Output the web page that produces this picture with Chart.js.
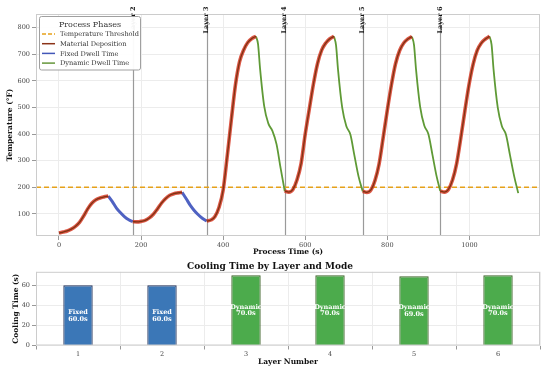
<!DOCTYPE html>
<html>
<head>
<meta charset="utf-8">
<script src="https://cdn.jsdelivr.net/npm/chart.js@4/dist/chart.umd.min.js"></script>
<style>
  html, body { margin: 0; padding: 0; background: #fff; }
  canvas { display: block; }
</style>
</head>
<body>
<canvas id="tempChart" width="550" height="258"></canvas>
<canvas id="coolChart" width="550" height="113"></canvas>
<script>
// process temperature trace
const timeS = [
  0, 10, 20, 30, 40, 50, 60, 70, 80, 90, 100, 110, 120,
  130, 140, 150, 160, 170, 180,
  190, 200, 210, 220, 230, 240, 250, 260, 270, 280, 290, 300,
  310, 320, 330, 340, 350, 360,
  370, 380, 390, 400, 410, 420, 430, 440, 450, 460, 470, 480,
  485, 490, 500, 510, 520, 530, 540, 550,
  560, 570, 580, 590, 600, 610, 620, 630, 640, 650, 660, 670,
  675, 680, 690, 700, 710, 720, 730, 740,
  750, 760, 770, 780, 790, 800, 810, 820, 830, 840, 850, 860,
  865, 870, 880, 890, 900, 910, 920, 929,
  939, 949, 959, 969, 979, 989, 999, 1009, 1019, 1029, 1039, 1049,
  1054, 1059, 1069, 1079, 1089, 1099, 1109, 1119
];
const tempF = [
  28, 32, 36, 43, 53, 68, 92, 119, 140, 153, 160, 164, 167,
  146, 122, 104, 89, 78, 71,
  70, 72, 76, 85, 99, 119, 141, 158, 170, 176, 179, 181,
  157, 132, 112, 96, 83, 73,
  77, 90, 125, 190, 318, 455, 585, 672, 716, 744, 759, 767,
  738, 645, 505, 440, 412, 362, 272, 186,
  182, 192, 228, 290, 400, 495, 588, 665, 715, 742, 758, 767,
  734, 640, 500, 430, 398, 318, 240, 185,
  181, 190, 226, 288, 388, 490, 585, 664, 714, 742, 757, 766,
  735, 642, 502, 432, 400, 322, 242, 186,
  182, 192, 228, 290, 385, 488, 585, 662, 714, 742, 757, 767,
  736, 640, 500, 430, 398, 320, 242, 178
];
// phase of the segment that starts at each point: D deposition, F fixed dwell, Y dynamic dwell
const phase = [
  'D','D','D','D','D','D','D','D','D','D','D','D','F',
  'F','F','F','F','F','D',
  'D','D','D','D','D','D','D','D','D','D','D','F',
  'F','F','F','F','F','D',
  'D','D','D','D','D','D','D','D','D','D','D','Y',
  'Y','Y','Y','Y','Y','Y','Y','D',
  'D','D','D','D','D','D','D','D','D','D','D','Y',
  'Y','Y','Y','Y','Y','Y','Y','D',
  'D','D','D','D','D','D','D','D','D','D','D','Y',
  'Y','Y','Y','Y','Y','Y','Y','D',
  'D','D','D','D','D','D','D','D','D','D','D','Y',
  'Y','Y','Y','Y','Y','Y','Y','Y'
];
const layerStarts = [180, 360, 550, 740, 929];
const layerNames = ['Layer 2', 'Layer 3', 'Layer 4', 'Layer 5', 'Layer 6'];
const threshold = 200;
const xTicks = [0, 200, 400, 600, 800, 1000];
const yTicks = [100, 200, 300, 400, 500, 600, 700, 800];

// cooling time per layer
const layers = ['1', '2', '3', '4', '5', '6'];
const coolingTimes = [60, 60, 70, 70, 69, 70];
const modes = ['Fixed', 'Fixed', 'Dynamic', 'Dynamic', 'Dynamic', 'Dynamic'];
const coolTicks = [0, 20, 40, 60];

const FONT = "'DejaVu Serif', serif";

function phaseData(p) {
  return timeS.map((t, i) => {
    const inPhase = phase[i] === p || (i > 0 && phase[i - 1] === p);
    return { x: t, y: inPhase ? tempF[i] : null };
  });
}

const lineBase = { pointRadius: 0, fill: false, cubicInterpolationMode: 'monotone', spanGaps: false };

const bgLines = {
  id: 'bgLines',
  beforeDatasetsDraw(chart) {
    const { ctx, chartArea: a, scales: { x, y } } = chart;
    ctx.save();
    // layer start lines
    ctx.strokeStyle = '#9a9a9a';
    ctx.lineWidth = 1.2;
    layerStarts.forEach(t => {
      const px = Math.round(x.getPixelForValue(t)) + 0.5;
      ctx.beginPath(); ctx.moveTo(px, a.top); ctx.lineTo(px, a.bottom); ctx.stroke();
    });
    // threshold
    const py = y.getPixelForValue(threshold);
    ctx.strokeStyle = '#e6a11a';
    ctx.lineWidth = 1.5;
    ctx.setLineDash([5, 3]);
    ctx.beginPath(); ctx.moveTo(a.left, py); ctx.lineTo(a.right, py); ctx.stroke();
    ctx.restore();
  },
  afterDraw(chart) {
    const { ctx, chartArea: a, scales: { x } } = chart;
    ctx.save();
    ctx.strokeStyle = '#cccccc';
    ctx.lineWidth = 1;
    ctx.strokeRect(a.left + 0.5, a.top + 0.5, a.right - a.left - 1, a.bottom - a.top - 1);
    // layer labels
    ctx.fillStyle = '#111';
    ctx.font = 'bold 6.5px ' + FONT;
    ctx.textAlign = 'center';
    ctx.textBaseline = 'middle';
    layerStarts.forEach((t, i) => {
      ctx.save();
      ctx.translate(x.getPixelForValue(t), 20);
      ctx.rotate(-Math.PI / 2);
      ctx.fillText(layerNames[i], 0, 0);
      ctx.restore();
    });
    // legend
    const lx = 39.5, ly = 16.5, lw = 101, lh = 53.5;
    ctx.fillStyle = 'rgba(255,255,255,0.95)';
    ctx.strokeStyle = '#a0a0a0';
    ctx.beginPath();
    ctx.roundRect(lx, ly, lw, lh, 2);
    ctx.fill(); ctx.stroke();
    ctx.fillStyle = '#333';
    ctx.font = '8px ' + FONT;
    ctx.fillText('Process Phases', 90, 24.5);
    const items = [
      ['Temperature Threshold', '#e6a11a', [4, 2]],
      ['Material Deposition', '#8b3318', []],
      ['Fixed Dwell Time', '#4257b8', []],
      ['Dynamic Dwell Time', '#65973a', []]
    ];
    ctx.font = '6.6px ' + FONT;
    ctx.textAlign = 'left';
    items.forEach((it, i) => {
      const iy = 34 + i * 9.7;
      ctx.strokeStyle = it[1];
      ctx.lineWidth = 1.5;
      ctx.setLineDash(it[2]);
      ctx.beginPath(); ctx.moveTo(42, iy); ctx.lineTo(55, iy); ctx.stroke();
      ctx.setLineDash([]);
      ctx.fillText(it[0], 60, iy + 0.5);
    });
    ctx.restore();
  }
};

const tempCtx = document.getElementById('tempChart').getContext('2d');
new Chart(tempCtx, {
  type: 'line',
  data: {
    datasets: [
      Object.assign({ data: phaseData('D'), borderColor: '#7f3312', borderWidth: 1.3, order: 1 }, lineBase),
      Object.assign({ data: phaseData('D'), borderColor: 'rgba(214,58,38,0.85)', borderWidth: 3.6, order: 2 }, lineBase),
      Object.assign({ data: phaseData('F'), borderColor: '#4f62c2', borderWidth: 3, order: 3 }, lineBase),
      Object.assign({ data: phaseData('Y'), borderColor: '#5f9a36', borderWidth: 1.8, order: 4 }, lineBase)
    ]
  },
  options: {
    responsive: false,
    animation: false,
    layout: { padding: { top: 14, right: 10, left: 0, bottom: 0 } },
    plugins: { legend: { display: false }, tooltip: { enabled: false } },
    scales: {
      x: {
        type: 'linear', min: -56, max: 1172,
        afterBuildTicks: s => { s.ticks = xTicks.map(v => ({ value: v })); },
        afterFit: s => { s.height = 22; },
        grid: { color: '#ececec', tickColor: '#999', tickLength: 4 },
        border: { display: false },
        ticks: { font: { family: FONT, size: 6.5 }, color: '#444', padding: 1, maxRotation: 0, callback: v => String(v) },
        title: { display: true, text: 'Process Time (s)', font: { family: FONT, size: 7.5, weight: 'bold' }, color: '#111', padding: { top: 0, bottom: 1 } }
      },
      y: {
        min: 17, max: 851,
        afterBuildTicks: s => { s.ticks = yTicks.map(v => ({ value: v })); },
        afterFit: s => { s.width = 36; },
        grid: { color: '#ececec', tickColor: '#999', tickLength: 4 },
        border: { display: false },
        ticks: { font: { family: FONT, size: 6.5 }, color: '#444', padding: 2, callback: v => String(v) },
        title: { display: true, text: 'Temperature (°F)', font: { family: FONT, size: 7.5, weight: 'bold' }, color: '#111', padding: { top: 5.5, bottom: 0 } }
      }
    }
  },
  plugins: [bgLines]
});

const barLabels = {
  id: 'barLabels',
  afterDatasetsDraw(chart) {
    const { ctx, scales: { x, y } } = chart;
    ctx.save();
    ctx.fillStyle = '#fff';
    ctx.font = 'bold 6.5px ' + FONT;
    ctx.textAlign = 'center';
    ctx.textBaseline = 'middle';
    coolingTimes.forEach((v, i) => {
      const px = x.getPixelForValue(i);
      const py = y.getPixelForValue(v / 2);
      ctx.fillText(modes[i], px, py - 3.4);
      ctx.fillText(v.toFixed(1) + 's', px, py + 3.4);
    });
    ctx.restore();
  },
  afterDraw(chart) {
    const { ctx, chartArea: a } = chart;
    ctx.save();
    ctx.strokeStyle = '#cccccc';
    ctx.lineWidth = 1;
    ctx.strokeRect(a.left + 0.5, a.top + 0.5, a.right - a.left - 1, a.bottom - a.top - 1);
    ctx.restore();
  }
};

const coolCtx = document.getElementById('coolChart').getContext('2d');
new Chart(coolCtx, {
  type: 'bar',
  data: {
    labels: layers,
    datasets: [{
      data: coolingTimes,
      backgroundColor: modes.map(m => m === 'Fixed' ? '#3b77b7' : '#4cab4c'),
      borderColor: modes.map(m => m === 'Fixed' ? '#26345c' : '#41662d'),
      borderWidth: 1.2,
      categoryPercentage: 1,
      barPercentage: 0.35
    }]
  },
  options: {
    responsive: false,
    animation: false,
    layout: { padding: { top: 1, right: 10, left: 0, bottom: 0 } },
    plugins: {
      legend: { display: false },
      tooltip: { enabled: false },
      title: {
        display: true, text: 'Cooling Time by Layer and Mode',
        font: { family: FONT, size: 9, weight: 'bold' }, color: '#111',
        padding: { top: 2, bottom: 0 }
      }
    },
    scales: {
      x: {
        afterFit: s => { s.height = 25.5; },
        grid: { color: '#ececec', tickColor: '#999', tickLength: 4 },
        border: { display: false },
        ticks: { font: { family: FONT, size: 6.5 }, color: '#444', padding: 1 },
        title: { display: true, text: 'Layer Number', font: { family: FONT, size: 7.5, weight: 'bold' }, color: '#111', padding: { top: 0, bottom: 4.2 } }
      },
      y: {
        min: 0, max: 73.5,
        afterBuildTicks: s => { s.ticks = coolTicks.map(v => ({ value: v })); },
        afterFit: s => { s.width = 36; },
        grid: { color: '#ececec', tickColor: '#999', tickLength: 4 },
        border: { display: false },
        ticks: { font: { family: FONT, size: 6.5 }, color: '#444', padding: 2 },
        title: { display: true, text: 'Cooling Time (s)', font: { family: FONT, size: 7.5, weight: 'bold' }, color: '#111', padding: { top: 12, bottom: 0 } }
      }
    }
  },
  plugins: [barLabels]
});
</script>
</body>
</html>
